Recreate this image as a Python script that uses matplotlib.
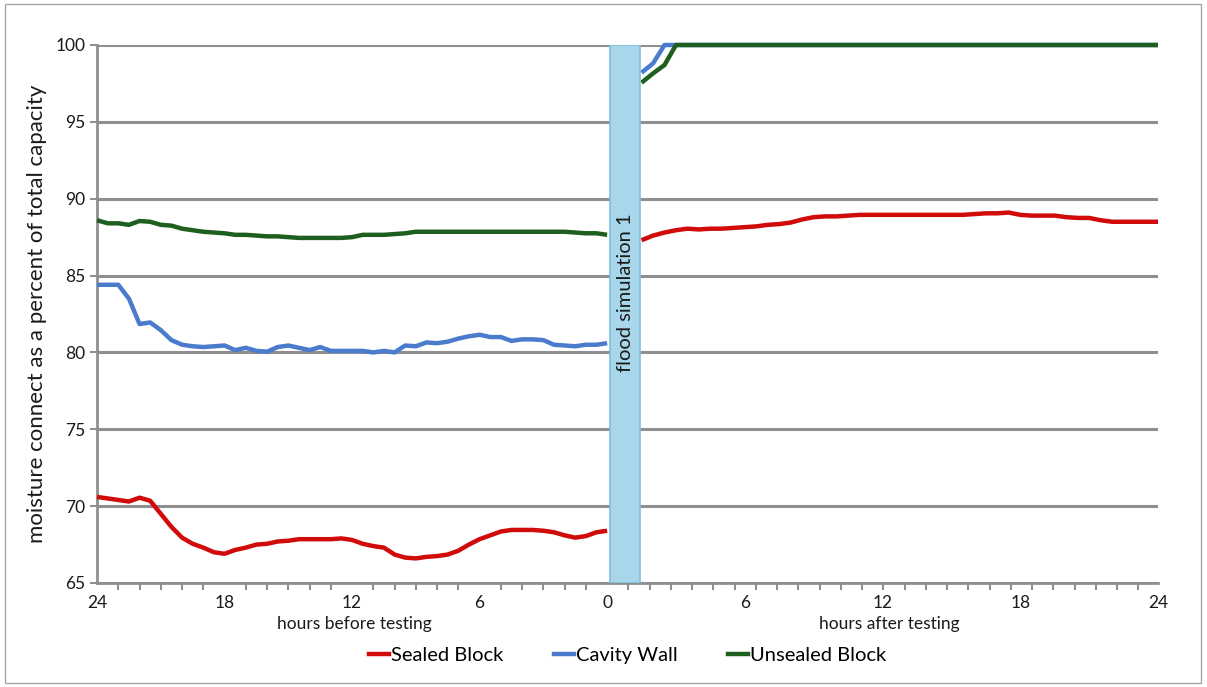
import numpy as np
import matplotlib.pyplot as plt
from matplotlib.lines import Line2D
from matplotlib.patches import Rectangle
from matplotlib.ticker import MultipleLocator

plt.rcParams['font.family'] = ['Lato', 'DejaVu Sans']

# Datos: horas antes de la prueba (24 -> 0), cada media hora
horas_antes = np.arange(24, -0.01, -0.5)
sellado_antes = [70.6, 70.5, 70.4, 70.3, 70.55, 70.35, 69.5, 68.65, 67.95, 67.55,
                 67.3, 67.0, 66.9, 67.15, 67.3, 67.5, 67.55, 67.7, 67.75, 67.85,
                 67.85, 67.85, 67.85, 67.9, 67.8, 67.55, 67.4, 67.3, 66.85, 66.65,
                 66.6, 66.7, 66.75, 66.85, 67.1, 67.5, 67.85, 68.1, 68.35, 68.45,
                 68.45, 68.45, 68.4, 68.3, 68.1, 67.95, 68.05, 68.3, 68.4]
cavidad_antes = [84.4, 84.4, 84.4, 83.5, 81.85, 81.95, 81.45, 80.8, 80.5, 80.4,
                 80.35, 80.4, 80.45, 80.15, 80.3, 80.1, 80.05, 80.35, 80.45, 80.3,
                 80.15, 80.35, 80.1, 80.1, 80.1, 80.1, 80.0, 80.1, 80.0, 80.45,
                 80.4, 80.65, 80.6, 80.7, 80.9, 81.05, 81.15, 81.0, 81.0, 80.75,
                 80.85, 80.85, 80.8, 80.5, 80.45, 80.4, 80.5, 80.5, 80.6]
no_sellado_antes = [88.6, 88.4, 88.4, 88.3, 88.55, 88.5, 88.3, 88.25, 88.05, 87.95,
                    87.85, 87.8, 87.75, 87.65, 87.65, 87.6, 87.55, 87.55, 87.5, 87.45,
                    87.45, 87.45, 87.45, 87.45, 87.5, 87.65, 87.65, 87.65, 87.7, 87.75,
                    87.85, 87.85, 87.85, 87.85, 87.85, 87.85, 87.85, 87.85, 87.85, 87.85,
                    87.85, 87.85, 87.85, 87.85, 87.85, 87.8, 87.75, 87.75, 87.65]

# Datos: horas despues de la prueba (1.5 -> 24), cada media hora
horas_despues = np.arange(1.5, 24.01, 0.5)
sellado_despues = [87.3, 87.6, 87.8, 87.95, 88.05, 88.0, 88.05, 88.05, 88.1, 88.15,
                   88.2, 88.3, 88.35, 88.45, 88.65, 88.8, 88.85, 88.85, 88.9, 88.95,
                   88.95, 88.95, 88.95, 88.95, 88.95, 88.95, 88.95, 88.95, 88.95, 89.0,
                   89.05, 89.05, 89.1, 88.95, 88.9, 88.9, 88.9, 88.8, 88.75, 88.75,
                   88.6, 88.5, 88.5, 88.5, 88.5, 88.5]
cavidad_despues = [98.2, 98.8] + [100.0] * 44
no_sellado_despues = [97.55, 98.15, 98.7] + [100.0] * 43

series = ["Sealed Block", "Cavity Wall", "Unsealed Block"]
colores = ["#d10a0a", "#4a7bcc", "#1e5e1e"]

etiquetas_antes = ["24", "18", "12", "6", "0"]
etiquetas_despues = ["6", "12", "18", "24"]

# el eje de "despues" esta un poco mas estirado que el de "antes"
k = 1.08

def x_antes(h):
    return -np.asarray(h)

def x_despues(h):
    return np.asarray(h) * k

fig = plt.figure(figsize=(12.07, 6.87), dpi=100)
ax = fig.add_axes([0.0804, 0.1514, 0.879, 0.7831])

datos = [(sellado_antes, sellado_despues), (cavidad_antes, cavidad_despues),
         (no_sellado_antes, no_sellado_despues)]
for (antes, despues), nombre, c in zip(datos, series, colores):
    ax.plot(x_antes(horas_antes), antes, color=c, lw=3.2, solid_capstyle='butt',
            clip_on=False, zorder=3)
    ax.plot(x_despues(horas_despues), despues, color=c, lw=3.2, solid_capstyle='butt',
            clip_on=False, zorder=3)

# barra de la simulacion de inundacion
ax.axvspan(0.15, 1.55, facecolor="#a8d6ea", edgecolor="#7ebfdc", lw=1.2, zorder=4)
ax.text(0.85, 83.9, "flood simulation 1", rotation=90, ha='center', va='center',
        fontsize=14.5, color="#1a1a1a", zorder=5)

ax.set_xlim(-24, 24 * k)
ax.set_ylim(65, 100)
ax.set_yticks(np.arange(65, 101, 5))
ax.yaxis.grid(True, color="#8f8f8f", lw=2.2)
ax.set_axisbelow(True)

pos_ticks = list(x_antes([24, 18, 12, 6, 0])) + list(x_despues([6, 12, 18, 24]))
ax.set_xticks(pos_ticks)
ax.set_xticklabels(etiquetas_antes + etiquetas_despues)
ax.xaxis.set_minor_locator(MultipleLocator(1))
ax.tick_params(axis='x', which='major', length=0, pad=9, labelsize=12.5, colors="#1a1a1a")
ax.tick_params(axis='x', which='minor', length=5, width=1.5, color="#8f8f8f")
ax.tick_params(axis='y', length=5, width=1.5, color="#8f8f8f", labelsize=12.5,
               labelcolor="#1a1a1a")

for lado in ['top', 'right']:
    ax.spines[lado].set_visible(False)
for lado in ['left', 'bottom']:
    ax.spines[lado].set_color("#8f8f8f")
    ax.spines[lado].set_linewidth(2)

ax.set_ylabel("moisture connect as a percent of total capacity", fontsize=16,
              color="#1a1a1a", labelpad=6)

trans = ax.get_xaxis_transform()
ax.text(-11.9, -0.076, "hours before testing", transform=trans, ha='center',
        va='center', fontsize=12.5, color="#1a1a1a")
ax.text(12.3 * k, -0.076, "hours after testing", transform=trans, ha='center',
        va='center', fontsize=12.5, color="#1a1a1a")

handles = [Line2D([], [], color=c, lw=3.2) for c in colores]
fig.legend(handles, series, loc='center', bbox_to_anchor=(0.52, 0.046), ncol=3,
           frameon=False, fontsize=14.5, handlelength=1.0, handletextpad=0.1,
           columnspacing=2.5)

fig.patches.append(Rectangle((0.004, 0.006), 0.991, 0.988, transform=fig.transFigure,
                             fill=False, edgecolor="#a8a8a8", lw=1))

fig.savefig("out.png", dpi=100)
